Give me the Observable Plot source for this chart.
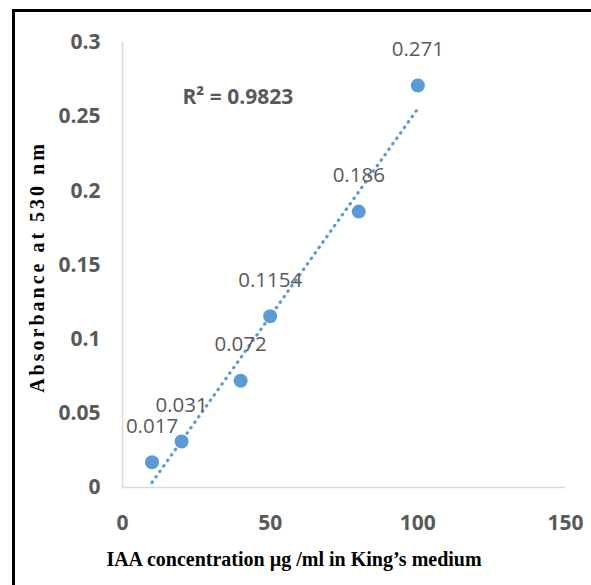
<!DOCTYPE html>
<html>
<head>
<meta charset="utf-8">
<script src="https://cdn.jsdelivr.net/npm/d3@7"></script>
<script src="https://cdn.jsdelivr.net/npm/@observablehq/plot@0.6"></script>
<style>
  html, body { margin: 0; padding: 0; background: #fff; }
  #wrap { position: relative; width: 591px; height: 585px; overflow: hidden; }
  #frame { position: absolute; left: 12px; top: 9px; width: 600px; height: 600px;
           border-top: 3px solid #000; border-left: 3px solid #000; pointer-events: none; }
</style>
</head>
<body>
<div id="wrap"><div id="frame"></div></div>
<script>
const concentration = [10, 20, 40, 50, 80, 100];
const absorbance = [0.017, 0.031, 0.072, 0.1154, 0.186, 0.271];
const pointLabels = ["0.017", "0.031", "0.072", "0.1154", "0.186", "0.271"];
const xTicks = [0, 50, 100, 150];
const yTicks = [0, 0.05, 0.1, 0.15, 0.2, 0.25, 0.3];
const yTickLabels = ["0", "0.05", "0.1", "0.15", "0.2", "0.25", "0.3"];
const xTitle = "IAA concentration µg /ml in King’s medium";
const yTitle = "Absorbance at 530 nm";

const data = concentration.map((c, i) => ({x: c, y: absorbance[i], label: pointLabels[i]}));

// R² of the linear fit
const mx = d3.mean(concentration), my = d3.mean(absorbance);
const sxy = d3.sum(data, d => (d.x - mx) * (d.y - my));
const sxx = d3.sum(data, d => (d.x - mx) ** 2);
const syy = d3.sum(data, d => (d.y - my) ** 2);
const r2 = (sxy * sxy) / (sxx * syy);

const blue = "#5b9bd5";
const gray = "#595959";
const serif = "'Liberation Serif', 'Times New Roman', serif";

const chart = Plot.plot({
  width: 591,
  height: 585,
  marginLeft: 122,
  marginRight: 26,
  marginTop: 42,
  marginBottom: 98,
  style: {fontFamily: "'Open Sans', sans-serif", color: gray, background: "transparent"},
  x: {domain: [0, 150]},
  y: {domain: [0, 0.3]},
  marks: [
    Plot.ruleX([0], {y1: 0, y2: 0.3, stroke: "#d9d9d9", strokeWidth: 1.5}),
    Plot.ruleY([0], {x1: 0, x2: 150, stroke: "#d9d9d9", strokeWidth: 1.5}),
    Plot.axisY({ticks: yTicks, tickFormat: d => yTickLabels[yTicks.indexOf(d)], tickSize: 0, tickPadding: 22,
                fontSize: 21, fontWeight: "bold", label: null}),
    Plot.axisX({ticks: xTicks, tickFormat: d => String(d), tickSize: 0, tickPadding: 28,
                fontSize: 21, fontWeight: "bold", label: null}),
    Plot.linearRegressionY(data, {x: "x", y: "y", ci: 0, stroke: blue, strokeWidth: 3.2,
                strokeDasharray: "0.5,6.2", strokeLinecap: "round"}),
    Plot.dot(data, {x: "x", y: "y", r: 7, fill: blue}),
    Plot.text(data, {x: "x", y: "y", text: "label", dy: -36, fontSize: 20.5, fill: gray}),
    Plot.text([`R² = ${r2.toFixed(4)}`], {frameAnchor: "top-left", dx: 60, dy: 55, textAnchor: "start",
                lineAnchor: "middle", fontSize: 21, fontWeight: "bold", fill: gray}),
    Plot.text([xTitle], {frameAnchor: "bottom", dx: -50, dy: 72, textAnchor: "middle", lineAnchor: "middle",
                fontFamily: serif, fontWeight: "bold", fontSize: 20, fill: "#000"}),
    Plot.text([yTitle], {frameAnchor: "left", dx: -85, dy: 2, rotate: -90, textAnchor: "middle", lineAnchor: "middle",
                fontFamily: serif, fontWeight: "bold", fontSize: 20, fill: "#000"})
  ]
});
d3.select(chart).selectAll("text").filter(function() { return this.textContent === yTitle; })
  .style("letter-spacing", "3px");
document.getElementById("wrap").prepend(chart);
chart.style.position = "absolute";
chart.style.left = "0px";
chart.style.top = "0px";
</script>
</body>
</html>
